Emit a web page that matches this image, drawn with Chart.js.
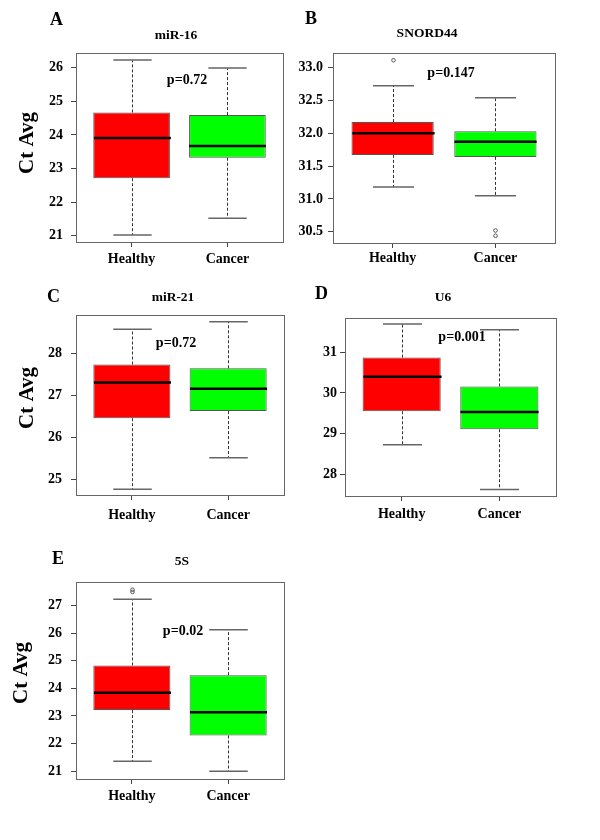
<!DOCTYPE html>
<html>
<head>
<meta charset="utf-8">
<script src="https://cdn.jsdelivr.net/npm/chart.js@4.4.0/dist/chart.umd.min.js"></script>
<style>
  body { margin: 0; background: #fff; }
  #page { position: relative; width: 600px; height: 840px; overflow: hidden; }
  canvas { position: absolute; }
</style>
</head>
<body>
<div id="page"></div>
<script>
// groups on the x axis
const groups = ['Healthy', 'Cancer'];

// box stats: [lower whisker, Q1, median, Q3, upper whisker]
const mir16Healthy = [21.02, 22.71, 23.91, 24.67, 26.23];
const mir16Cancer = [21.52, 23.32, 23.67, 24.59, 25.99];
const mir16Ticks = [21, 22, 23, 24, 25, 26];

const snord44Healthy = [31.18, 31.67, 32.00, 32.17, 32.72];
const snord44Cancer = [31.05, 31.64, 31.87, 32.03, 32.54];
const snord44HealthyOut = [33.11];
const snord44CancerOut = [30.52, 30.44];
const snord44Ticks = [30.5, 31.0, 31.5, 32.0, 32.5, 33.0];

const mir21Healthy = [24.77, 26.46, 27.31, 27.74, 28.58];
const mir21Cancer = [25.52, 26.63, 27.16, 27.65, 28.76];
const mir21Ticks = [25, 26, 27, 28];

const u6Healthy = [28.73, 29.55, 30.40, 30.87, 31.69];
const u6Cancer = [27.63, 29.11, 29.53, 30.16, 31.55];
const u6Ticks = [28, 29, 30, 31];

const s5Healthy = [21.35, 23.21, 23.84, 24.83, 27.23];
const s5Cancer = [20.99, 22.29, 23.13, 24.48, 26.13];
const s5HealthyOut = [27.58, 27.50];
const s5Ticks = [21, 22, 23, 24, 25, 26, 27];

const pLabels = ['p=0.72', 'p=0.147', 'p=0.72', 'p=0.001', 'p=0.02'];

const boxColors = ['#ff0000', '#00ff00'];
const FONT = '"Liberation Serif", "Times New Roman", serif';

// panel layout (page pixels)
const panels = [
  { letter: 'A', title: 'miR-16', stats: [mir16Healthy, mir16Cancer], out: [[], []], ticks: mir16Ticks, dec: 0,
    yMin: 20.81, yMax: 26.44, canvas: [0, 0, 300, 280], area: [76, 53, 283, 242], tickPad: 8, xPad: 4,
    letterAt: [50, 25], titleAt: [176, 36], pAt: [187, 80], pText: pLabels[0], yTitleAt: [28, 143] },
  { letter: 'B', title: 'SNORD44', stats: [snord44Healthy, snord44Cancer], out: [snord44HealthyOut, snord44CancerOut], ticks: snord44Ticks, dec: 1,
    yMin: 30.33, yMax: 33.22, canvas: [290, 0, 310, 280], area: [333, 53, 555, 243], tickPad: 5, xPad: 2,
    letterAt: [305, 24], titleAt: [427, 34], pAt: [451, 73], pText: pLabels[1], yTitleAt: null },
  { letter: 'C', title: 'miR-21', stats: [mir21Healthy, mir21Cancer], out: [[], []], ticks: mir21Ticks, dec: 0,
    yMin: 24.63, yMax: 28.92, canvas: [0, 280, 300, 270], area: [76, 315, 284, 495], tickPad: 9, xPad: 7,
    letterAt: [47, 302], titleAt: [173, 298], pAt: [176, 343], pText: pLabels[2], yTitleAt: [28, 398] },
  { letter: 'D', title: 'U6', stats: [u6Healthy, u6Cancer], out: [[], []], ticks: u6Ticks, dec: 0,
    yMin: 27.47, yMax: 31.84, canvas: [290, 280, 310, 270], area: [345, 318, 556, 496], tickPad: 3, xPad: 5,
    letterAt: [315, 299], titleAt: [443, 298], pAt: [462, 337], pText: pLabels[3], yTitleAt: null },
  { letter: 'E', title: '5S', stats: [s5Healthy, s5Cancer], out: [s5HealthyOut, []], ticks: s5Ticks, dec: 0,
    yMin: 20.71, yMax: 27.86, canvas: [0, 550, 300, 290], area: [76, 582, 284, 779], tickPad: 9, xPad: 4,
    letterAt: [52, 564], titleAt: [182, 562], pAt: [183, 631], pText: pLabels[4], yTitleAt: [22, 673] }
];

// whiskers, medians, outliers, frame and labels
const boxPlugin = {
  id: 'boxExtras',
  afterDatasetsDraw(chart, args, opts) {
    const p = opts.panel;
    const { ctx, scales: { x, y } } = chart;
    const half = x.getPixelForValue(1.4) - x.getPixelForValue(1);
    const cap = x.getPixelForValue(1.2) - x.getPixelForValue(1);
    ctx.save();
    p.stats.forEach((s, i) => {
      const cx = Math.round(x.getPixelForValue(i + 1)) + 0.5;
      // dashed whiskers
      ctx.strokeStyle = '#333';
      ctx.lineWidth = 1;
      ctx.setLineDash([3, 2]);
      ctx.beginPath();
      ctx.moveTo(cx, y.getPixelForValue(s[3]));
      ctx.lineTo(cx, y.getPixelForValue(s[4]));
      ctx.moveTo(cx, y.getPixelForValue(s[1]));
      ctx.lineTo(cx, y.getPixelForValue(s[0]));
      ctx.stroke();
      ctx.setLineDash([]);
      // caps
      ctx.strokeStyle = '#666';
      ctx.lineWidth = 1.5;
      ctx.beginPath();
      [s[0], s[4]].forEach(v => {
        const py = y.getPixelForValue(v);
        ctx.moveTo(cx - cap, py);
        ctx.lineTo(cx + cap, py);
      });
      ctx.stroke();
      // median
      ctx.strokeStyle = '#000';
      ctx.lineWidth = 2.5;
      ctx.beginPath();
      const my = y.getPixelForValue(s[2]);
      ctx.moveTo(cx - half, my);
      ctx.lineTo(cx + half, my);
      ctx.stroke();
      // outliers
      ctx.strokeStyle = '#555';
      ctx.lineWidth = 1;
      p.out[i].forEach(v => {
        ctx.beginPath();
        ctx.arc(cx, y.getPixelForValue(v), 1.8, 0, Math.PI * 2);
        ctx.stroke();
      });
    });
    ctx.restore();
  },
  afterDraw(chart, args, opts) {
    const p = opts.panel;
    const { ctx, chartArea: a } = chart;
    const ox = p.canvas[0], oy = p.canvas[1];
    ctx.save();
    ctx.strokeStyle = '#666';
    ctx.lineWidth = 1;
    ctx.strokeRect(a.left + 0.5, a.top + 0.5, a.right - a.left, a.bottom - a.top);
    ctx.fillStyle = '#000';
    ctx.textBaseline = 'alphabetic';
    ctx.textAlign = 'left';
    ctx.font = 'bold 18px ' + FONT;
    ctx.fillText(p.letter, p.letterAt[0] - ox, p.letterAt[1] - oy);
    ctx.textBaseline = 'middle';
    ctx.textAlign = 'center';
    ctx.font = 'bold 13.5px ' + FONT;
    ctx.fillText(p.title, p.titleAt[0] - ox, p.titleAt[1] - oy);
    ctx.font = 'bold 14px ' + FONT;
    ctx.fillText(p.pText, p.pAt[0] - ox, p.pAt[1] - oy);
    if (p.yTitleAt) {
      ctx.translate(p.yTitleAt[0] - ox, p.yTitleAt[1] - oy);
      ctx.rotate(-Math.PI / 2);
      ctx.font = 'bold 21px ' + FONT;
      ctx.fillText('Ct Avg', 0, 0);
    }
    ctx.restore();
  }
};

const page = document.getElementById('page');

panels.forEach(p => {
  const [cl, ct, cw, chh] = p.canvas;
  const [al, at, ar, ab] = p.area;
  const canvas = document.createElement('canvas');
  canvas.width = cw;
  canvas.height = chh;
  canvas.style.left = cl + 'px';
  canvas.style.top = ct + 'px';
  canvas.style.width = cw + 'px';
  canvas.style.height = chh + 'px';
  page.appendChild(canvas);

  new Chart(canvas.getContext('2d'), {
    type: 'bar',
    data: {
      datasets: [{
        data: p.stats.map((s, i) => ({ x: i + 1, y: [s[1], s[3]] })),
        backgroundColor: boxColors,
        borderColor: '#555',
        borderWidth: 1,
        borderSkipped: false,
        categoryPercentage: 1,
        barPercentage: 0.8
      }]
    },
    options: {
      responsive: false,
      animation: false,
      layout: { padding: { left: 0, top: at - ct, right: cl + cw - ar, bottom: 0 } },
      plugins: {
        legend: { display: false },
        tooltip: { enabled: false },
        boxExtras: { panel: p }
      },
      scales: {
        x: {
          type: 'linear',
          offset: false,
          min: 0.42,
          max: 2.58,
          afterBuildTicks: sc => { sc.ticks = groups.map((g, i) => ({ value: i + 1 })); },
          afterFit: sc => { sc.height = ct + chh - ab; },
          border: { display: false },
          grid: { offset: false, drawOnChartArea: false, drawTicks: true, tickLength: 5, color: '#444' },
          ticks: {
            callback: v => groups[v - 1],
            color: '#000',
            padding: p.xPad,
            maxRotation: 0,
            font: { family: FONT, size: 14, weight: 'bold' }
          }
        },
        y: {
          type: 'linear',
          min: p.yMin,
          max: p.yMax,
          afterBuildTicks: sc => { sc.ticks = p.ticks.map(v => ({ value: v })); },
          afterFit: sc => { sc.width = al - cl; },
          border: { display: false },
          grid: { drawOnChartArea: false, drawTicks: true, tickLength: 5, color: '#444' },
          ticks: {
            callback: v => Number(v).toFixed(p.dec),
            color: '#000',
            padding: p.tickPad,
            font: { family: FONT, size: 14, weight: 'bold' }
          }
        }
      }
    },
    plugins: [boxPlugin]
  });
});
</script>
</body>
</html>
